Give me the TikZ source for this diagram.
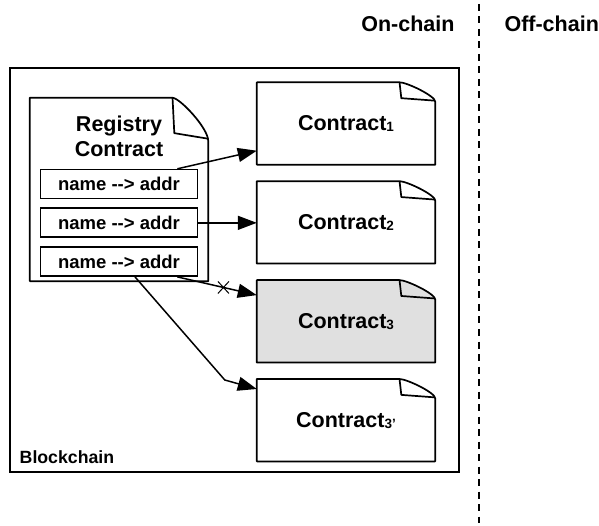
\documentclass[tikz,border=0pt]{standalone}
\usepackage{fontspec}
\setmainfont{Liberation Sans}
\usetikzlibrary{positioning, calc, arrows.meta, shapes.misc, backgrounds}

% page outline with a folded corner, drawn round a named node
\newcommand{\docpage}[2][white]{%
  \path[pageline, fill=#1] let \p1=(#2.north west), \p2=(#2.south east),
      \n1={0.2*(\x2-\x1)}, \n2={0.235*(\y1-\y2)} in
    (\p1) -- (\x2-\n1,\y1)
      .. controls (\x2-0.8*\n1,\y1) and (\x2,\y1-0.7*\n2) .. (\x2,\y1-\n2)
      -- (\x2,\y2) -- (\x1,\y2) -- cycle;
  \path[pageline] let \p1=(#2.north west), \p2=(#2.south east),
      \n1={0.2*(\x2-\x1)}, \n2={0.235*(\y1-\y2)} in
    (\x2-\n1,\y1) -- (\x2-0.95*\n1,\y1-0.82*\n2) -- (\x2,\y1-0.95*\n2);
}
% small index after a contract name
\newcommand{\cidx}[1]{\raisebox{-1pt}{\fontsize{13.5}{14}\selectfont #1}}

\begin{document}
\begin{tikzpicture}[
    x=1pt, y=1pt,
    % --- Styles ---
    pageline/.style={draw, line width=1.7pt, line join=round},
    regdoc/.style={minimum width=178pt, minimum height=183pt, inner sep=0pt},
    contractdoc/.style={
        minimum width=178pt, minimum height=82pt, inner sep=0pt,
        font=\bfseries\fontsize{21.5}{24}\selectfont
    },
    entrybox/.style={
        draw, line width=1.7pt, fill=white, inner sep=0pt,
        minimum width=157pt, minimum height=29pt,
        font=\bfseries\fontsize{18.5}{20}\selectfont
    },
    link/.style={line width=1.5pt, -{Triangle[length=19pt, width=14pt]}},
    headlabel/.style={font=\bfseries\fontsize{21.5}{24}\selectfont}
    ]
    \useasboundingbox (0,0) rectangle (599,525);

    % --- Blockchain frame ---
    \node [draw, line width=1.6pt, minimum width=449pt, minimum height=404pt] (chain) at (234.5,255) {};
    \node [anchor=base west, font=\bfseries\fontsize{17.7}{20}\selectfont] (chainlbl) at ($(chain.south west)+(7,9)$) {Blockchain};

    % --- On-chain / Off-chain split ---
    \coordinate (divtop) at (479,521);
    \coordinate (divbot) at (479,2);
    \draw [line width=1.4pt, dash pattern=on 7pt off 5.5pt] (divtop) -- (divbot);
    \node [headlabel, anchor=base east] (onchain) at (458,493) {On-chain};
    \node [headlabel, anchor=base west] (offchain) at (501,493) {Off-chain};

    % --- Registry contract ---
    \node [regdoc] (reg) at (119,335.5) {};
    \node [headlabel, align=center, below=15pt of reg.north] (regtitle) {Registry\\[1pt]Contract};
    \node [entrybox, below=71pt of reg.north] (e1) {name -{}-> addr};
    \node [entrybox, below=8pt of e1] (e2) {name -{}-> addr};
    \node [entrybox, below=8pt of e2] (e3) {name -{}-> addr};

    % --- Contracts ---
    \node [contractdoc] (c1) at (346,401.5) {Contract\cidx{1}};
    \node [contractdoc, below=16.5pt of c1] (c2) {Contract\cidx{2}};
    \node [contractdoc, below=16.5pt of c2] (c3) {Contract\cidx{3}};
    \node [contractdoc, below=16.5pt of c3] (c3b) {Contract\cidx{3'}};

    % outlines go behind the texts
    \begin{scope}[on background layer]
        \docpage{reg}
        \docpage{c1}
        \docpage{c2}
        \docpage[black!12]{c3}
        \docpage{c3b}
    \end{scope}

    % --- Links from the registry ---
    \draw [link] ($(e1.north east)+(-21,0)$) -- ($(c1.south west)+(0,14)$);
    \draw [link] (e2.east) -- (e2.east -| c2.west);
    \draw [link] ($(e3.south east)+(-21,0)$) -- node[pos=0.58, draw, cross out, line width=1pt,
        minimum width=10pt, minimum height=11pt, inner sep=0pt] (cut) {} ($(c3.north west)+(0,-15)$);
    \coordinate (bend) at ($(c3b.north west)+(-32,-1)$);
    \draw [link] ($(e3.south)+(16,0)$) -- (bend) -- ($(c3b.north west)+(0,-10)$);

\end{tikzpicture}
\end{document}
